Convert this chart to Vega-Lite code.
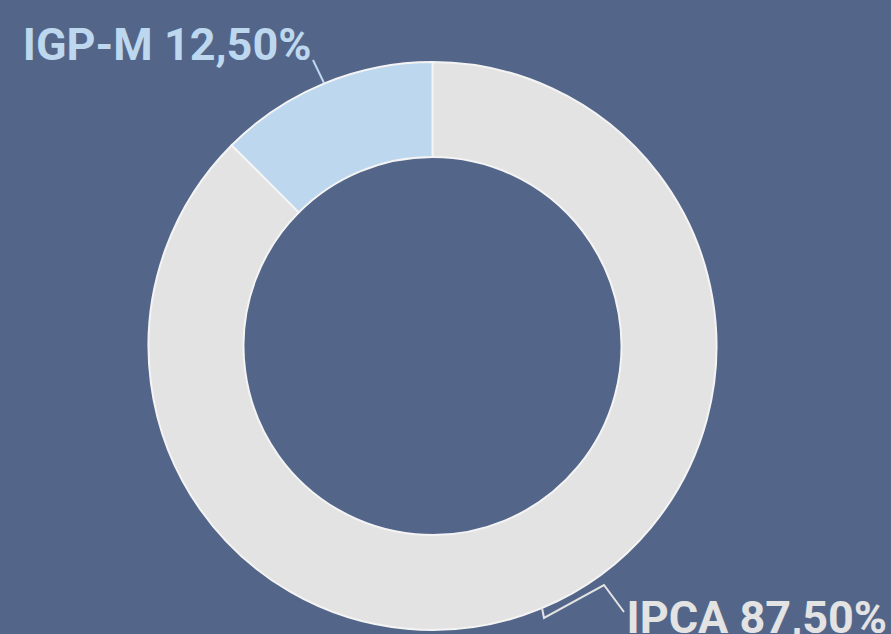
{
  "$schema": "https://vega.github.io/schema/vega-lite/v6.json",
  "width": 568,
  "height": 568,
  "autosize": {"type": "none"},
  "padding": {"left": 148.5, "top": 62, "right": 174.5, "bottom": 4},
  "background": "#536689",
  "view": {"stroke": null},
  "config": {"font": "Roboto"},
  "datasets": {
    "slices": [
      {"indice": "IPCA", "pct": 87.5, "ordem": 1},
      {"indice": "IGP-M", "pct": 12.5, "ordem": 2}
    ],
    "labels": [
      {"indice": "IGP-M", "texto": "IGP-M 12,50%", "x": -121, "y": 286},
      {"indice": "IPCA", "texto": "IPCA 87,50%", "x": 194, "y": -287}
    ],
    "leaders": [
      {"indice": "IGP-M", "seq": 1, "x": -119.5, "y": 286},
      {"indice": "IGP-M", "seq": 2, "x": -108.5, "y": 263},
      {"indice": "IPCA", "seq": 1, "x": 109.5, "y": -262},
      {"indice": "IPCA", "seq": 2, "x": 111.5, "y": -272},
      {"indice": "IPCA", "seq": 3, "x": 171.5, "y": -239},
      {"indice": "IPCA", "seq": 4, "x": 191.5, "y": -266}
    ]
  },
  "layer": [
    {
      "data": {"name": "slices"},
      "mark": {"type": "arc", "innerRadius": 189, "outerRadius": 284, "stroke": "#f4f4f4", "strokeWidth": 2},
      "encoding": {
        "theta": {"field": "pct", "type": "quantitative", "stack": true},
        "order": {"field": "ordem", "type": "quantitative"},
        "color": {"field": "indice", "type": "nominal", "scale": {"domain": ["IPCA", "IGP-M"], "range": ["#e3e3e3", "#bdd7ee"]}, "legend": null}
      }
    },
    {
      "data": {"name": "leaders"},
      "mark": {"type": "line", "strokeWidth": 2, "clip": false},
      "encoding": {
        "x": {"field": "x", "type": "quantitative", "scale": {"domain": [-284, 284], "nice": false, "zero": false}, "axis": null},
        "y": {"field": "y", "type": "quantitative", "scale": {"domain": [-284, 284], "nice": false, "zero": false}, "axis": null},
        "order": {"field": "seq", "type": "quantitative"},
        "detail": {"field": "indice"},
        "color": {"field": "indice", "type": "nominal", "legend": null}
      }
    },
    {
      "data": {"name": "labels"},
      "transform": [{"filter": "datum.indice === 'IGP-M'"}],
      "mark": {"type": "text", "align": "right", "baseline": "alphabetic", "fontSize": 45, "fontWeight": "bold", "font": "Roboto", "clip": false},
      "encoding": {
        "x": {"field": "x", "type": "quantitative"},
        "y": {"field": "y", "type": "quantitative"},
        "text": {"field": "texto"},
        "color": {"field": "indice", "type": "nominal", "legend": null}
      }
    },
    {
      "data": {"name": "labels"},
      "transform": [{"filter": "datum.indice === 'IPCA'"}],
      "mark": {"type": "text", "align": "left", "baseline": "alphabetic", "fontSize": 45, "fontWeight": "bold", "font": "Roboto", "clip": false},
      "encoding": {
        "x": {"field": "x", "type": "quantitative"},
        "y": {"field": "y", "type": "quantitative"},
        "text": {"field": "texto"},
        "color": {"field": "indice", "type": "nominal", "legend": null}
      }
    }
  ]
}
